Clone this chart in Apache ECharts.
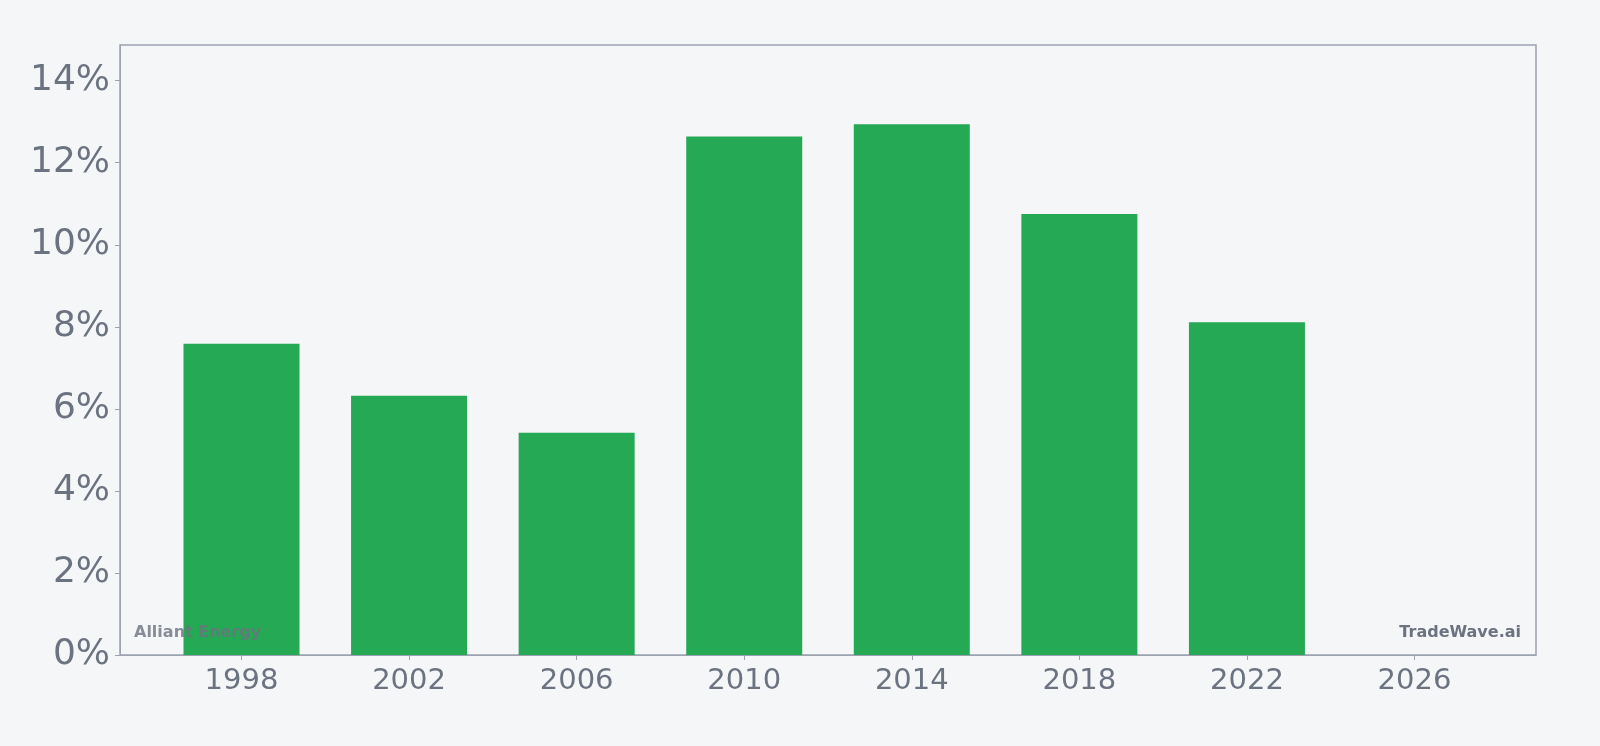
<!DOCTYPE html>
<html><head><meta charset="utf-8">
<script src="https://cdn.jsdelivr.net/npm/echarts@6/dist/echarts.min.js"></script>
<style>html,body{margin:0;background:#f5f6f8}#c{width:1600px;height:746px}</style>
</head><body><div id="c"></div>
<script>
const years = [1998, 2002, 2006, 2010, 2014, 2018, 2022];
const values = [7.59, 6.32, 5.42, 12.64, 12.94, 10.75, 8.11];
const xTicks = [1998, 2002, 2006, 2010, 2014, 2018, 2022, 2026];
const chart = echarts.init(document.getElementById('c'));
chart.setOption({
  backgroundColor: '#f5f6f8',
  grid: {left: 120, right: 64, top: 45, bottom: 91, show: true, borderColor: '#9ca3af', borderWidth: 1.5, backgroundColor: 'transparent'},
  xAxis: {
    type: 'value', min: 1995.1, max: 2028.9,
    axisLine: {show: true, lineStyle: {color: '#9ca3af'}},
    splitLine: {show: false},
    axisTick: {show: true, customValues: xTicks, lineStyle: {color: '#9ca3af'}},
    axisLabel: {customValues: xTicks, color: '#6b7280', fontSize: 29, margin: 12, fontFamily: 'DejaVu Sans', formatter: v => String(v)}
  },
  yAxis: {
    type: 'value', min: 0, max: 14.87, interval: 2,
    axisLine: {show: true, lineStyle: {color: '#9ca3af'}},
    axisTick: {show: true, lineStyle: {color: '#9ca3af'}},
    splitLine: {show: false},
    axisLabel: {color: '#6b7280', fontSize: 36, margin: 10, fontFamily: 'DejaVu Sans', formatter: v => v + '%',
      showMaxLabel: false}
  },
  series: [{type: 'bar', barWidth: 116, itemStyle: {color: '#22a852', opacity: 0.99},
    data: years.map((y, i) => [y, values[i]])}],
  graphic: [
    {type: 'text', left: 134, top: 625, z: 100, style: {text: 'Alliant Energy', fill: '#6b7280', opacity: 0.8, font: 'bold 16px DejaVu Sans'}},
    {type: 'text', right: 79, top: 625, z: 100, style: {text: 'TradeWave.ai', fill: '#6b7280', font: 'bold 16px DejaVu Sans'}}
  ]
});
</script></body></html>
